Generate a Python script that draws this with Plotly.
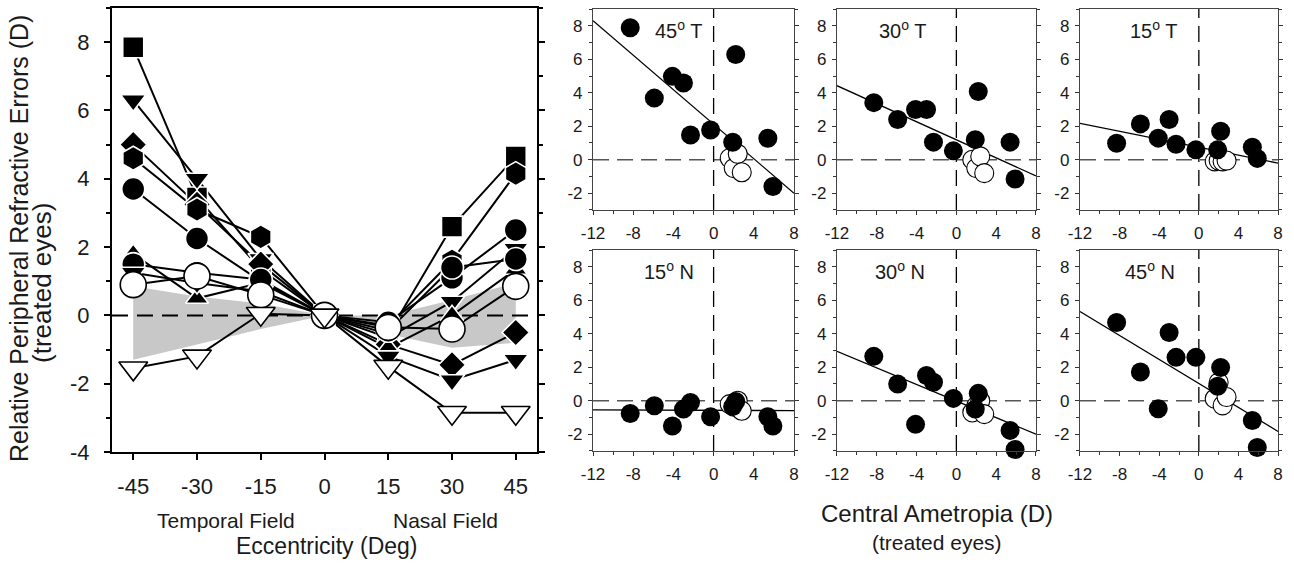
import plotly.graph_objects as go
import numpy as np

FONT = "Liberation Sans, Arial, sans-serif"

# ---------------- Left panel data ----------------
ecc = [-45, -30, -15, 0, 15, 30, 45]
ecc_labels = ["-45", "-30", "-15", "0", "15", "30", "45"]
left_yticks = [-4, -2, 0, 2, 4, 6, 8]
band_upper = [0.85, 0.55, 0.35, 0.0, 0.0, 0.45, 0.95]
band_lower = [-1.3, -0.85, -0.4, 0.0, -0.55, -0.95, -0.8]

sq_vals = [7.85, 3.45, 1.35, 0, -0.55, 2.6, 4.65]
tdn1_vals = [6.3, 4.0, 1.65, 0, -0.65, 0.4, 1.95]
dia_vals = [5.0, 3.25, 1.5, 0, -0.85, -1.45, -0.5]
hex_vals = [4.6, 3.1, 2.3, 0, -0.3, 1.6, 4.15]
circ1_vals = [3.7, 2.25, 1.0, 0, -0.2, 1.1, 2.5]
tup_vals = [1.8, 0.5, 0.95, 0, -0.95, 0.0, 1.35]
circ2_vals = [1.5, 1.25, 1.05, 0, -0.45, 1.4, 1.65]
tdn2_vals = [1.25, 0.95, 0.7, 0, -1.2, -1.9, -1.3]
ocirc_vals = [0.9, 1.15, 0.6, 0, -0.35, -0.4, 0.85]
otdn_vals = [-1.55, -1.2, 0.05, 0, -1.5, -2.85, -2.85]

# ---------------- Scatter panel data ----------------
central_ticks = [-12, -8, -4, 0, 4, 8]
rpre_ticks = [-2, 0, 2, 4, 6, 8]
central_filled = [-8.3, -5.9, -4.1, -3.0, -2.3, -0.3, 1.9, 2.2, 5.4, 5.9]
central_open = [1.6, 2.0, 2.4, 2.8]

rpre_45T = [7.88, 3.68, 4.98, 4.58, 1.48, 1.78, 1.04, 6.28, 1.28, -1.6]
rpre_30T = [3.41, 2.4, 3.0, 3.0, 1.05, 0.53, 1.2, 4.08, 1.05, -1.15]
rpre_15T = [0.99, 2.14, 1.29, 2.4, 0.93, 0.59, 0.59, 1.7, 0.75, 0.08]
rpre_15N = [-0.76, -0.3, -1.51, -0.5, -0.1, -0.96, -0.35, -0.05, -0.96, -1.51]
rpre_30N = [2.65, 1.0, -1.41, 1.51, 1.1, 0.14, -0.5, 0.44, -1.77, -2.91]
rpre_45N = [4.67, 1.72, -0.48, 4.07, 2.59, 2.59, 0.86, 1.98, -1.18, -2.79]

open_45T = [0.1, -0.5, 0.35, -0.75]
open_30T = [0.0, -0.5, 0.2, -0.8]
open_15T = [-0.1, -0.05, -0.1, -0.05]
open_15N = [-0.2, -0.35, 0.0, -0.6]
open_30N = [-0.7, -0.3, 0.0, -0.8]
open_45N = [0.12, 1.1, -0.28, 0.22]

panel_titles = ["45<sup>o</sup> T", "30<sup>o</sup> T", "15<sup>o</sup> T",
                "15<sup>o</sup> N", "30<sup>o</sup> N", "45<sup>o</sup> N"]
title_x = [-3.5, -5.4, -4.6, -4.4, -5.7, -4.9]
fit_slope = [-0.515, -0.2695, -0.119, -0.0025, -0.2475, -0.358]
fit_intercept = [2.12, 1.19, 0.75, -0.57, -0.02, 1.03]

filled_sets = [rpre_45T, rpre_30T, rpre_15T, rpre_15N, rpre_30N, rpre_45N]
open_sets = [open_45T, open_30T, open_15T, open_15N, open_30N, open_45N]

W, H = 1294, 564


def px_x(p):
    return p / W


def px_y(p):
    return 1 - p / H


def labels(vals):
    return [str(v) for v in vals]


fig = go.Figure()

# ---- left panel ----
fig.add_trace(go.Scatter(x=ecc + ecc[::-1], y=band_upper + band_lower[::-1],
                         fill="toself", fillcolor="#c8c8c8", line=dict(width=0),
                         mode="lines", hoverinfo="skip", xaxis="x", yaxis="y"))
XR_LEFT = [-50, 50]
fig.add_trace(go.Scatter(x=XR_LEFT, y=[0, 0], mode="lines",
                         line=dict(color="black", width=2, dash="16px,9px"),
                         xaxis="x", yaxis="y", hoverinfo="skip"))

series = [
    (sq_vals, "square", 21, True),
    (tdn1_vals, "triangle-down", 22, True),
    (dia_vals, "diamond", 21, True),
    (hex_vals, "hexagon", 24, True),
    (circ1_vals, "circle", 23, True),
    (tup_vals, "triangle-up", 20, True),
    (circ2_vals, "circle", 23, True),
    (tdn2_vals, "triangle-down", 22, True),
    (ocirc_vals, "circle", 26, False),
    (otdn_vals, "triangle-down", 25, False),
]
for vals, sym, sz, filled in series:
    fig.add_trace(go.Scatter(x=ecc, y=vals, mode="lines",
                             line=dict(color="black", width=2),
                             xaxis="x", yaxis="y", hoverinfo="skip"))
for vals, sym, sz, filled in series:
    fig.add_trace(go.Scatter(
        x=ecc, y=vals, mode="markers", xaxis="x", yaxis="y", cliponaxis=False,
        marker=dict(symbol=sym, size=sz,
                    color="black" if filled else "white",
                    line=dict(color="white" if filled else "black", width=1.6))))

# ---- scatter panels ----
col_dom = [[0.4583, 0.6136], [0.6468, 0.8006], [0.8346, 0.9877]]
row_dom = [[0.6277, 0.984], [0.2004, 0.5567]]
XR = [-12, 8]
YR = [-3, 9]

shapes = []
annotations = []
for i in range(6):
    n = i + 2
    xa, ya = f"x{n}", f"y{n}"
    shapes.append(dict(type="line", xref=f"{xa} domain", yref=ya, x0=0, x1=1, y0=0, y1=0,
                       line=dict(color="#555", width=1.3, dash="16px,8px"), layer="below"))
    shapes.append(dict(type="line", xref=xa, yref=f"{ya} domain", x0=0, x1=0, y0=0, y1=1,
                       line=dict(color="black", width=1.3, dash="16px,8px"), layer="below"))
    fx = np.array(XR, dtype=float)
    fy = fit_slope[i] * fx + fit_intercept[i]
    fig.add_trace(go.Scatter(x=fx, y=fy, mode="lines", line=dict(color="black", width=1.3),
                             xaxis=xa, yaxis=ya, hoverinfo="skip"))
    fig.add_trace(go.Scatter(x=central_open, y=open_sets[i], mode="markers",
                             xaxis=xa, yaxis=ya, cliponaxis=False,
                             marker=dict(symbol="circle", size=19, color="white",
                                         line=dict(color="black", width=1.1))))
    fig.add_trace(go.Scatter(x=central_filled, y=filled_sets[i], mode="markers",
                             xaxis=xa, yaxis=ya, cliponaxis=False,
                             marker=dict(symbol="circle", size=19, color="black",
                                         line=dict(width=0))))
    annotations.append(dict(text=panel_titles[i], xref=xa, yref=ya, x=title_x[i], y=7.75,
                            showarrow=False, xanchor="center", yanchor="middle",
                            font=dict(family=FONT, size=20, color="#1a1a1a")))

layout_axes = {}
layout_axes["xaxis"] = dict(domain=[px_x(112), px_x(537)], range=XR_LEFT, anchor="y",
                            automargin=False,
                            tickvals=ecc, ticktext=ecc_labels, ticks="outside",
                            ticklen=6, tickwidth=2, tickcolor="black",
                            showline=True, linewidth=2, linecolor="black", mirror=True,
                            showgrid=False, zeroline=False, ticklabelstandoff=8,
                            tickfont=dict(family=FONT, size=22, color="#1a1a1a"))
layout_axes["yaxis"] = dict(domain=[px_y(452), px_y(8)], range=[-4, 9], anchor="x",
                            automargin=False,
                            tickvals=left_yticks, ticktext=labels(left_yticks),
                            ticks="outside",
                            ticklen=6, tickwidth=2, tickcolor="black",
                            minor=dict(dtick=1, ticks="outside", ticklen=4, tickwidth=1.5,
                                       tickcolor="black"),
                            showline=True, linewidth=2, linecolor="black", mirror="ticks",
                            showgrid=False, zeroline=False, ticklabelstandoff=10,
                            tickfont=dict(family=FONT, size=22, color="#1a1a1a"))
for i in range(6):
    n = i + 2
    r, c = divmod(i, 3)
    layout_axes[f"xaxis{n}"] = dict(domain=col_dom[c], range=XR, anchor=f"y{n}",
                                    automargin=False,
                                    tickvals=central_ticks, ticktext=labels(central_ticks),
                                    ticks="outside",
                                    ticklen=4, tickwidth=1, tickcolor="#333",
                                    minor=dict(dtick=2, ticks="outside", ticklen=3,
                                               tickcolor="#333"),
                                    showline=True, linewidth=1.2, linecolor="#444", mirror=True,
                                    showgrid=False, zeroline=False, ticklabelstandoff=4,
                                    tickfont=dict(family=FONT, size=17, color="#1a1a1a"))
    layout_axes[f"yaxis{n}"] = dict(domain=row_dom[r], range=YR, anchor=f"x{n}",
                                    automargin=False,
                                    tickvals=rpre_ticks, ticktext=labels(rpre_ticks),
                                    ticks="outside",
                                    ticklen=4, tickwidth=1, tickcolor="#333",
                                    minor=dict(dtick=1, ticks="outside", ticklen=3,
                                               tickcolor="#333"),
                                    showline=True, linewidth=1.2, linecolor="#444",
                                    mirror="ticks",
                                    showgrid=False, zeroline=False, ticklabelstandoff=2,
                                    tickfont=dict(family=FONT, size=17, color="#1a1a1a"))


def ann(text, x, y, size, angle=0):
    return dict(text=text, xref="paper", yref="paper", x=px_x(x), y=px_y(y),
                showarrow=False, xanchor="center", yanchor="middle", textangle=angle,
                font=dict(family=FONT, size=size, color="#1a1a1a"))


annotations += [
    ann("Relative Peripheral Refractive Errors (D)", 19, 239, 25, -90),
    ann("(treated eyes)", 42, 283, 26, -90),
    ann("Temporal Field", 226, 520, 21),
    ann("Nasal Field", 445, 520, 21),
    ann("Eccentricity (Deg)", 326, 546, 23),
    ann("Central Ametropia (D)", 937, 513, 24),
    ann("(treated eyes)", 937, 542, 21),
]

fig.update_layout(width=W, height=H,
                  margin=dict(l=0, r=0, t=0, b=0, pad=0, autoexpand=False),
                  paper_bgcolor="white", plot_bgcolor="white", showlegend=False,
                  shapes=shapes, annotations=annotations, **layout_axes)

fig.write_html("out.html", config={"displayModeBar": False},
               post_script="document.body.style.margin='0px';document.body.style.overflow='hidden';")
